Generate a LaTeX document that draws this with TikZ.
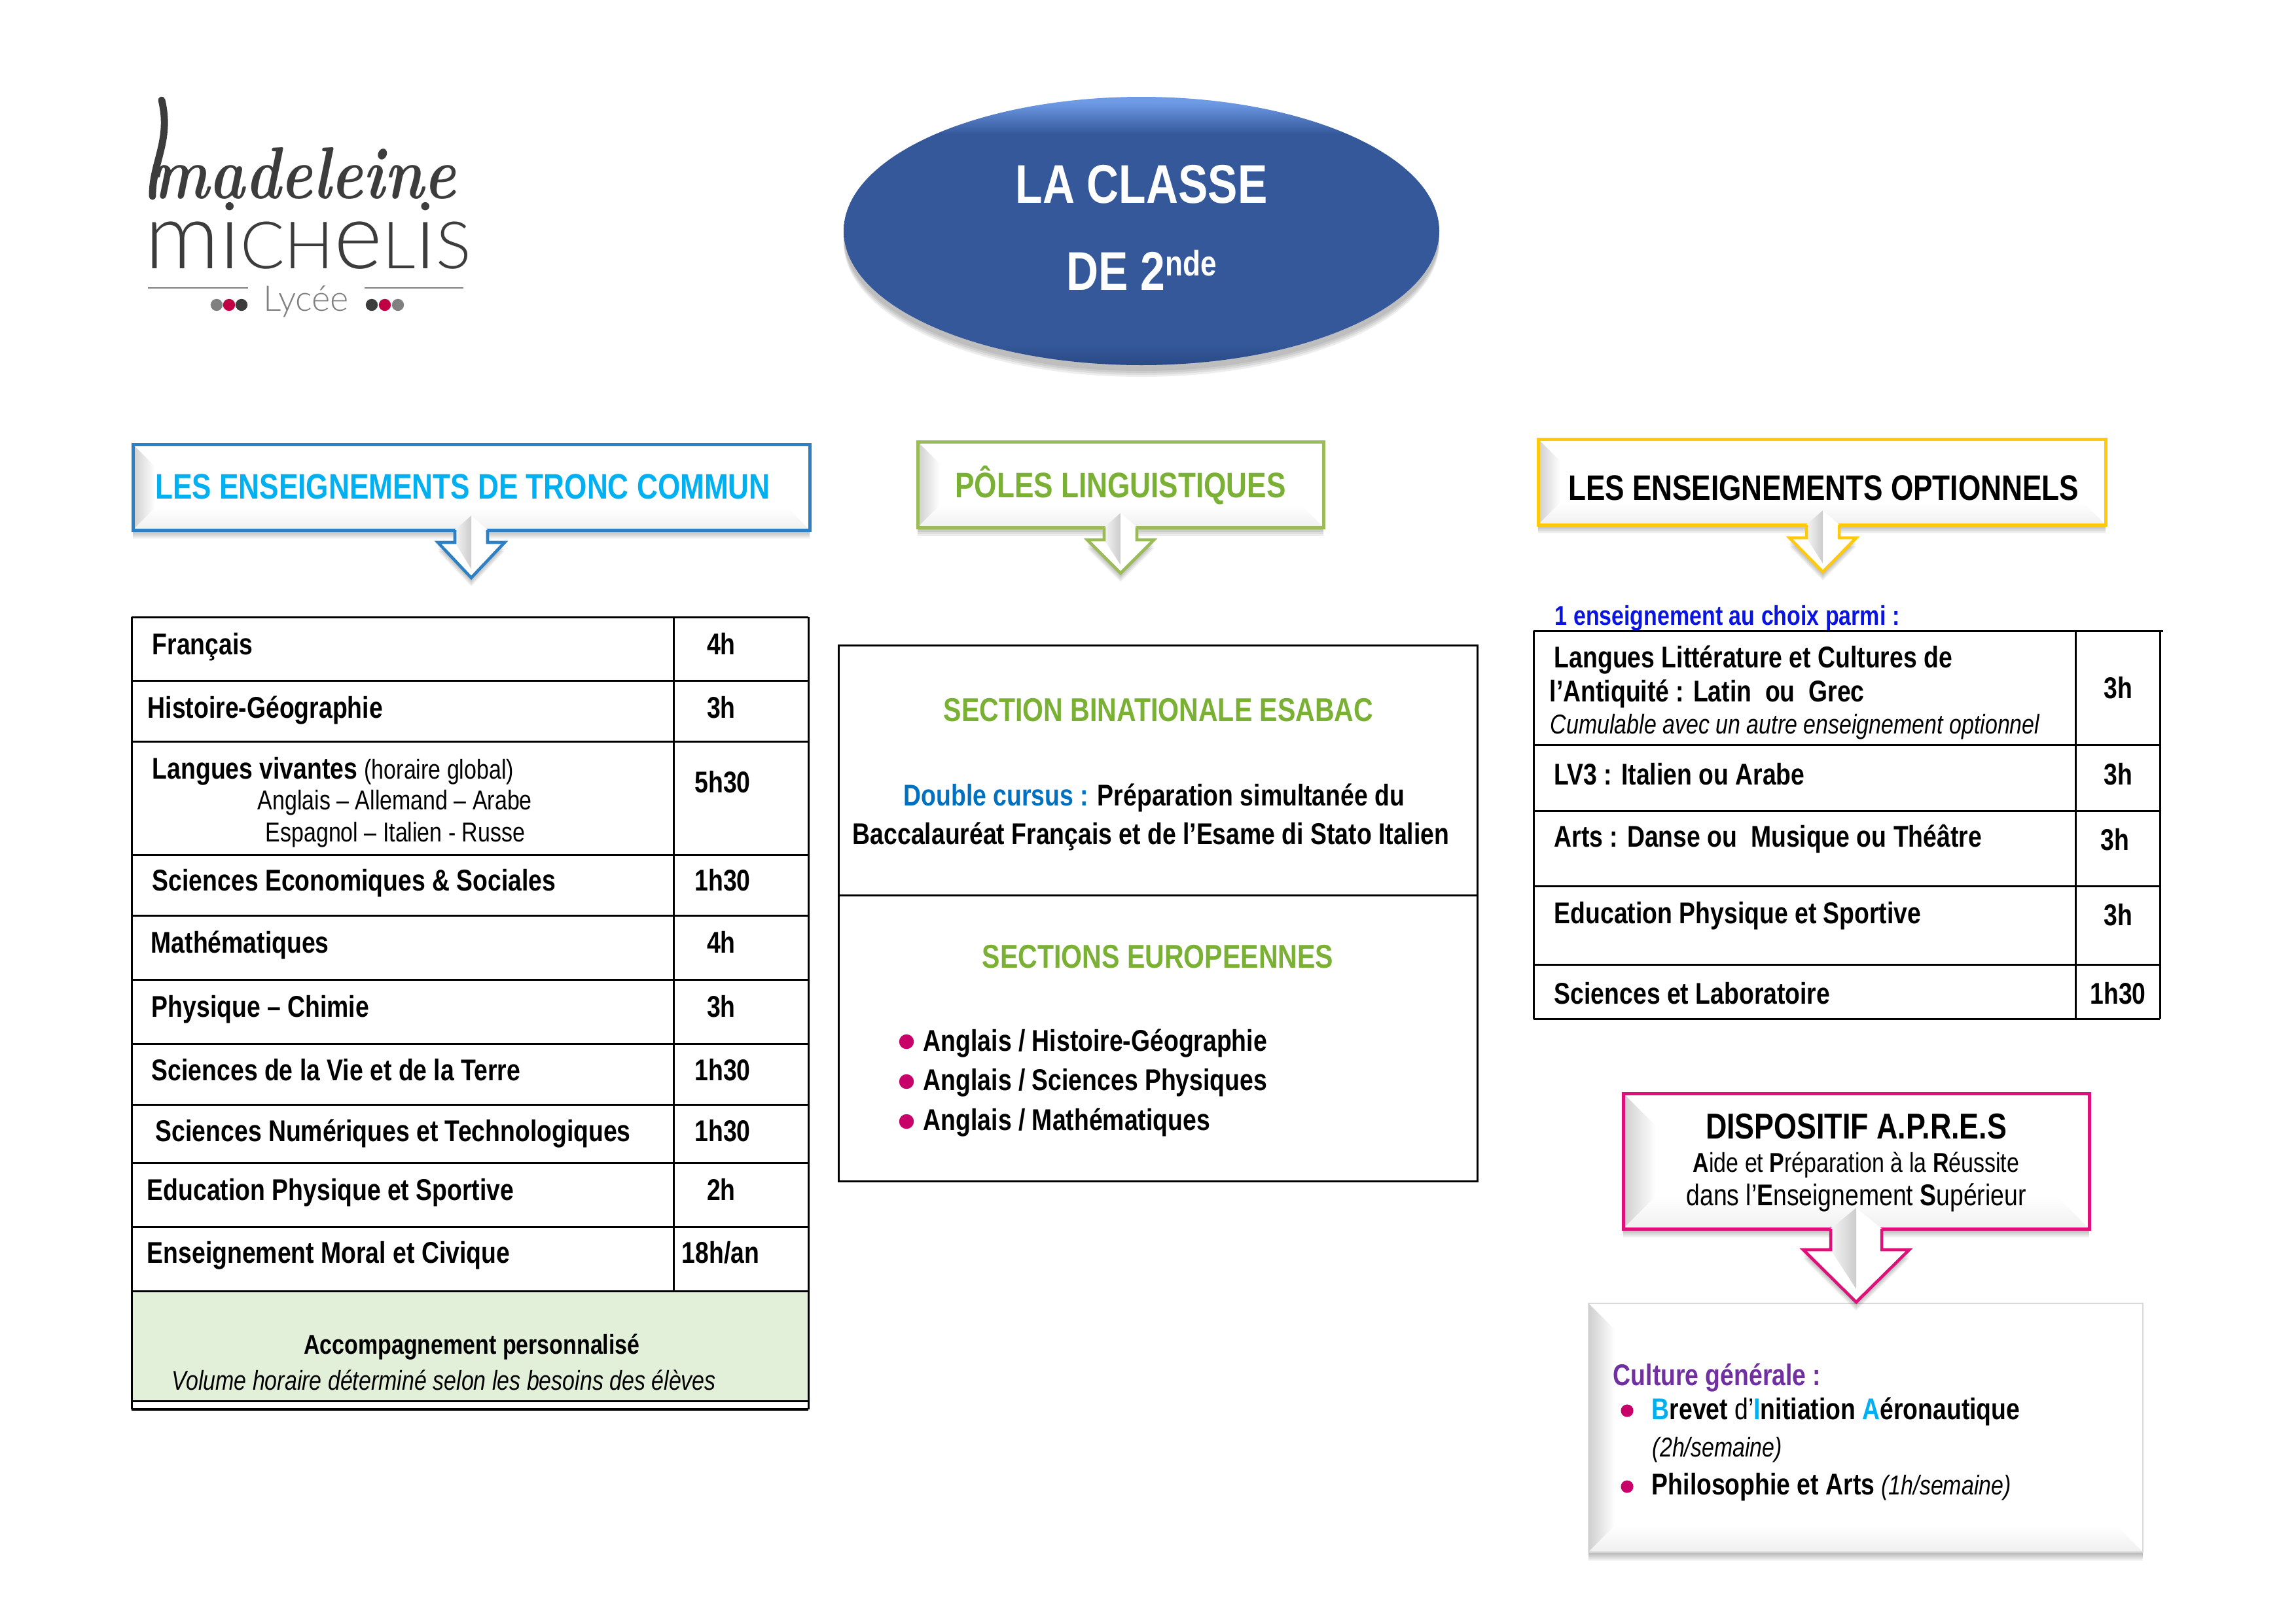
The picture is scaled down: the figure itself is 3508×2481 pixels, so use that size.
\documentclass[tikz,border=0pt]{standalone}
\usepackage{fontspec}
\setmainfont[FakeStretch=.815]{Liberation Sans}
\newfontfamily\signfont[FakeStretch=.82]{Latin Modern Roman}
\newfontfamily\logofont[UprightFont=* Light]{Lato}
\usetikzlibrary{shapes.geometric}

\definecolor{tronc}{HTML}{2E80C4}
\definecolor{troncText}{HTML}{00B0F0}
\definecolor{poles}{HTML}{9BBB59}
\definecolor{polesText}{HTML}{7AB135}
\definecolor{options}{HTML}{FFC90E}
\definecolor{apres}{HTML}{E0107A}
\definecolor{dotPink}{HTML}{C8006A}
\definecolor{cursus}{HTML}{0070C0}
\definecolor{choix}{HTML}{0A14E0}
\definecolor{culture}{HTML}{7030A0}
\definecolor{vert}{HTML}{E2EFD9}
\definecolor{logoDark}{HTML}{3C3C3C}
\definecolor{logoRed}{HTML}{C00045}
\definecolor{rimTop}{HTML}{6E9AE6}
\definecolor{rimBase}{HTML}{34589A}
\definecolor{rimLow}{HTML}{2A4A86}
\pgfdeclareverticalshading{rim}{100bp}{color(0bp)=(rimLow); color(25bp)=(rimLow); color(29bp)=(rimBase); color(68bp)=(rimBase); color(74bp)=(rimTop); color(100bp)=(rimTop)}

\tikzset{
  tcell/.style={anchor=base west, inner sep=0, yshift=-.5pt, font=\fontsize{11}{13}\selectfont\bfseries},
  hcell/.style={anchor=base, inner sep=0, yshift=-.5pt, font=\fontsize{11}{13}\selectfont\bfseries},
  plain/.style={anchor=base west, inner sep=0, yshift=-.5pt, font=\fontsize{10}{12}\selectfont},
  banner/.style={anchor=base, inner sep=0, yshift=-.5pt, font=\fontsize{13}{16}\selectfont\bfseries},
  rule/.style={line width=.72pt, black},
  bullet/.style={circle, fill=dotPink, inner sep=0, minimum size=5.4pt},
  logodot/.style={circle, inner sep=0, minimum size=4.4pt}
}

\newcommand{\softshadow}[1]{
  \foreach \s in {4,7,10,13} {
    \fill[black, opacity=.07, shift={(0,\s)}] #1;
  }
}
\newcommand{\bevelbox}[6]{
  \softshadow{(#1,#2) rectangle (#3,#4)}
  \fill[white] (#1,#2) rectangle (#3,#4);
  \shade[left color=gray!38, right color=white] (#1,#2) -- (#1+#6,#2+#6) -- (#1+#6,#4-#6) -- (#1,#4) -- cycle;
  \shade[top color=white, bottom color=gray!12] (#1,#4) -- (#1+#6,#4-#6) -- (#3-#6,#4-#6) -- (#3,#4) -- cycle;
  \draw[line width=1.2pt, #5] (#1,#2) rectangle (#3,#4);
}
\newcommand{\bevelarrow}[8]{
  \softshadow{(#1-#3,#6) -- (#1,#7) -- (#1+#3,#6) -- cycle}
  \fill[white] (#1,#8) -- (#1-#2,#5) -- (#1-#2,#6) -- (#1-#3,#6) -- (#1,#7) -- (#1+#3,#6) -- (#1+#2,#6) -- (#1+#2,#5) -- cycle;
  \shade[left color=gray!8, right color=gray!40] (#1,#8) -- (#1-#2,#5) -- (#1-#2,#6) -- (#1,#7-.25*#7+.25*#6) -- cycle;
  \draw[#4, line width=1.1pt, line join=miter] (#1-#2,#5) -- (#1-#2,#6) -- (#1-#3,#6) -- (#1,#7) -- (#1+#3,#6) -- (#1+#2,#6) -- (#1+#2,#5);
}

\begin{document}
\begin{tikzpicture}[x=.24pt, y=-.24pt]
\useasboundingbox (0,0) rectangle (3508,2481);

\node[anchor=base west, inner sep=0, text=logoDark, font=\signfont\fontsize{27}{27}\selectfont\bfseries\itshape] (signature) at (232,303) {madeleine};
\draw[logoDark, line width=2.6pt, line cap=round] (247,153) .. controls (262,215) and (232,250) .. (233,300);
\node[anchor=base west, inner sep=0, text=logoDark, font=\logofont\fontsize{24}{24}\selectfont] (michelis) at (221,410) {{\fontsize{34}{34}\selectfont mi}CH{\fontsize{34}{34}\selectfont e}L{\fontsize{34}{34}\selectfont i}S};
\node[anchor=base, inner sep=0, text=gray, font=\logofont\fontsize{13}{13}\selectfont] (lycee) at (468,475) {Lycée};
\coordinate (lineA) at (226,440);
\coordinate (lineB) at (379,440);
\coordinate (lineC) at (557,440);
\coordinate (lineD) at (708,440);
\draw[gray, line width=.5pt] (lineA) -- (lineB);
\draw[gray, line width=.5pt] (lineC) -- (lineD);
\node[logodot, fill=gray] (dotA) at (331,466) {};
\node[logodot, fill=logoRed] (dotB) at (350,466) {};
\node[logodot, fill=logoDark] (dotC) at (369,466) {};
\node[logodot, fill=logoDark] (dotD) at (568,466) {};
\node[logodot, fill=logoRed] (dotE) at (588,466) {};
\node[logodot, fill=gray] (dotF) at (608,466) {};

\softshadow{(1744,358) ellipse [x radius=455, y radius=205]}
\node[ellipse, shading=rim, minimum width=218.4pt, minimum height=98.4pt, inner sep=0, text=white, align=center, font=\fontsize{20}{32.2}\selectfont\bfseries] (title) at (1744,353) {\raisebox{2pt}{LA CLASSE}\\\raisebox{2.4pt}{DE 2{\fontsize{13}{13}\selectfont\raisebox{5.3pt}{nde}}}};

\bevelbox{203}{679}{1237}{810}{tronc}{34}
\bevelarrow{720}{25}{51}{tronc}{810}{829}{883}{788}
\node[banner, text=troncText] (troncHead) at (707,760) {LES ENSEIGNEMENTS DE TRONC COMMUN};

\bevelbox{1402}{675}{2022}{806}{poles}{34}
\bevelarrow{1712}{25}{51}{poles}{806}{825}{876}{784}
\node[banner, text=polesText] (polesHead) at (1712,758) {PÔLES LINGUISTIQUES};

\bevelbox{2350}{671}{3217}{802}{options}{34}
\bevelarrow{2785}{25}{51}{options}{802}{822}{874}{780}
\node[banner] (optionsHead) at (2786,762) {LES ENSEIGNEMENTS OPTIONNELS};

\fill[vert] (201,1973) rectangle (1235,2141);
\foreach \y in {943,1040,1133,1306,1399,1497,1595,1688,1777,1875,1973} {
  \draw[rule] (201,\y) -- (1235,\y);
}
\draw[rule] (201,2141) -- (1235,2141);
\draw[rule, line width=1pt] (201,2154) -- (1235,2154);
\draw[rule] (201,943) -- (201,2154);
\draw[rule] (1235,943) -- (1235,2154);
\draw[rule] (1029,943) -- (1029,1973);

\node[tcell] (francais) at (232,998) {Français};
\node[tcell] (histoire) at (225,1095) {Histoire-Géographie};
\node[tcell] (langues) at (232,1188) {Langues vivantes {\mdseries\fontsize{10}{12}\selectfont (horaire global)}};
\node[plain] (languesA) at (393,1235) {Anglais – Allemand – Arabe};
\node[plain] (languesB) at (405,1284) {Espagnol – Italien - Russe};
\node[tcell] (ses) at (232,1359) {Sciences Economiques \& Sociales};
\node[tcell] (maths) at (230,1454) {Mathématiques};
\node[tcell] (physique) at (231,1552) {Physique – Chimie};
\node[tcell] (svt) at (231,1649) {Sciences de la Vie et de la Terre};
\node[tcell] (snt) at (237,1742) {Sciences Numériques et Technologiques};
\node[tcell] (eps) at (224,1832) {Education Physique et Sportive};
\node[tcell] (emc) at (224,1928) {Enseignement Moral et Civique};

\node[hcell] (hFrancais) at (1102,998) {4h};
\node[hcell] (hHistoire) at (1102,1095) {3h};
\node[hcell] (hLangues) at (1104,1209) {5h30};
\node[hcell] (hSes) at (1104,1359) {1h30};
\node[hcell] (hMaths) at (1102,1454) {4h};
\node[hcell] (hPhysique) at (1102,1552) {3h};
\node[hcell] (hSvt) at (1104,1649) {1h30};
\node[hcell] (hSnt) at (1104,1742) {1h30};
\node[hcell] (hEps) at (1102,1832) {2h};
\node[hcell] (hEmc) at (1101,1928) {18h/an};

\node[hcell, font=\fontsize{10}{12}\selectfont\bfseries] (accomp) at (721,2067) {Accompagnement personnalisé};
\node[plain, font=\fontsize{10}{12}\selectfont\itshape] (volume) at (262,2122) {Volume horaire déterminé selon les besoins des élèves};

\draw[rule] (1281,986) rectangle (2257,1805);
\draw[rule] (1281,1368) -- (2257,1368);
\node[banner, text=polesText, font=\fontsize{12.1}{15}\selectfont\bfseries] (esabac) at (1770,1100) {SECTION BINATIONALE ESABAC};
\node[tcell] (cursusA) at (1380,1229) {\textcolor{cursus}{Double cursus :} Préparation simultanée du};
\node[tcell] (cursusB) at (1302,1288) {Baccalauréat Français et de l’Esame di Stato Italien};
\node[banner, text=polesText, font=\fontsize{12.1}{15}\selectfont\bfseries] (europe) at (1769,1477) {SECTIONS EUROPEENNES};
\node[bullet] (dotHist) at (1385,1592) {};
\node[bullet] (dotPhys) at (1385,1653) {};
\node[bullet] (dotMath) at (1385,1714) {};
\node[tcell] (angHist) at (1410,1604) {Anglais / Histoire-Géographie};
\node[tcell] (angPhys) at (1410,1664) {Anglais / Sciences Physiques};
\node[tcell] (angMath) at (1410,1725) {Anglais / Mathématiques};

\node[tcell, text=choix, font=\fontsize{10}{12}\selectfont\bfseries] (choixText) at (2375,953) {1 enseignement au choix parmi :};
\foreach \y in {964,1138,1239,1354,1474,1557} {
  \draw[rule] (2343,\y) -- (3300,\y);
}
\draw[rule] (3300,964) -- (3305,964);
\draw[rule] (2343,964) -- (2343,1557);
\draw[rule] (3171,964) -- (3171,1557);
\draw[rule] (3300,964) -- (3300,1557);

\node[tcell] (latinA) at (2374,1018) {Langues Littérature et Cultures de};
\node[tcell] (latinB) at (2367,1070) {l’Antiquité : Latin~ ou~ Grec};
\node[plain, font=\fontsize{10}{12}\selectfont\itshape] (latinC) at (2368,1119) {Cumulable avec un autre enseignement optionnel};
\node[tcell] (lv) at (2374,1197) {LV3 : Italien ou Arabe};
\node[tcell] (arts) at (2374,1292) {Arts : Danse ou~ Musique ou Théâtre};
\node[tcell] (epsOpt) at (2374,1409) {Education Physique et Sportive};
\node[tcell] (labo) at (2374,1532) {Sciences et Laboratoire};
\node[hcell] (hLatin) at (3236,1065) {3h};
\node[hcell] (hLv) at (3236,1197) {3h};
\node[hcell] (hArts) at (3231,1297) {3h};
\node[hcell] (hEpsOpt) at (3236,1412) {3h};
\node[hcell] (hLabo) at (3236,1532) {1h30};

\bevelbox{2427}{1992}{3274}{2372}{gray!30, line width=.5pt}{40}
\bevelbox{2480}{1671}{3192}{1878}{apres}{50}
\bevelarrow{2836}{39}{81}{apres}{1878}{1910}{1990}{1846}

\node[banner, font=\fontsize{13.2}{16}\selectfont\bfseries, text=black] (apresHead) at (2836,1738) {DISPOSITIF A.P.R.E.S};
\node[anchor=base, inner sep=0, yshift=-.5pt, font=\fontsize{10}{12}\selectfont] (apresA) at (2836,1789) {\textbf{A}ide et \textbf{P}réparation à la \textbf{R}éussite};
\node[anchor=base, inner sep=0, yshift=-.5pt, font=\fontsize{11}{12}\selectfont] (apresB) at (2836,1840) {dans l’\textbf{E}nseignement \textbf{S}upérieur};

\node[tcell, text=culture] (cultureHead) at (2464,2115) {Culture générale :};
\node[bullet, minimum size=4.6pt] (dotBia) at (2486,2156) {};
\node[bullet, minimum size=4.6pt] (dotPhilo) at (2486,2272) {};
\node[tcell] (bia) at (2523,2167) {\textcolor{troncText}{B}revet {\mdseries d’}\textcolor{troncText}{I}nitiation \textcolor{troncText}{A}éronautique};
\node[plain, font=\fontsize{10}{12}\selectfont\itshape] (biaHours) at (2524,2224) {(2h/semaine)};
\node[tcell] (philo) at (2523,2282) {Philosophie et Arts {\mdseries\itshape\fontsize{10}{12}\selectfont (1h/semaine)}};
\end{tikzpicture}
\end{document}
